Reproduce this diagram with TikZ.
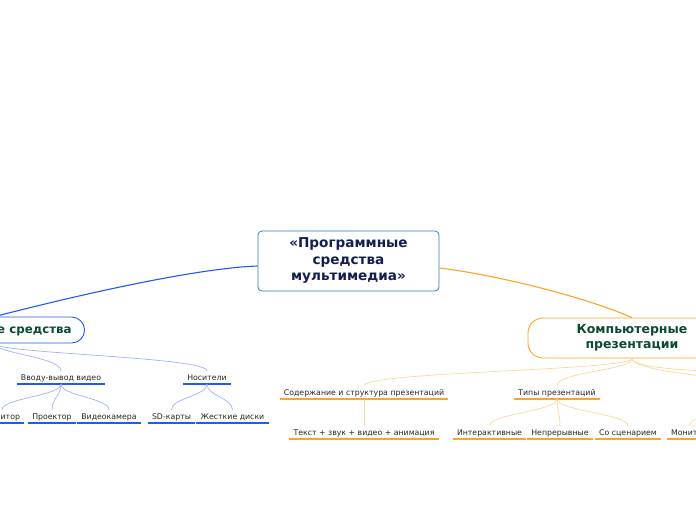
\documentclass[tikz,border=0pt]{standalone}
\usepackage{fontspec}
\setmainfont{DejaVu Sans}
\definecolor{bluemain}{HTML}{1F5BF0}
\definecolor{bluelight}{HTML}{9DB2FF}
\definecolor{orangemain}{HTML}{FFA22A}
\definecolor{orangelight}{HTML}{FFD59A}
\definecolor{rootborder}{HTML}{2D7DC0}
\definecolor{roottext}{HTML}{12204F}
\definecolor{topictext}{HTML}{0C4A30}
\tikzset{
  rootbox/.style={draw=rootborder, line width=0.8pt, rounded corners=4pt, minimum width=181pt,
    minimum height=60pt, align=center, text=roottext, inner sep=1pt, font=\fontsize{13.6}{16.5}\selectfont\bfseries},
  topicbox/.style={rounded corners=13pt, line width=0.9pt, text=topictext, align=center,
    font=\fontsize{12.5}{15}\selectfont\bfseries},
  leaf/.style={font=\fontsize{7.8}{9}\selectfont, inner xsep=4pt, inner ysep=3.5pt, text depth=0pt,
    anchor=south, text=black!85},
  ulb/.style={draw=bluemain, line width=1.4pt},
  ulo/.style={draw=orangemain, line width=1.4pt},
  mainb/.style={draw=bluemain, line width=1.1pt},
  maino/.style={draw=orangemain, line width=1.1pt},
  lconb/.style={draw=bluelight, line width=0.7pt},
  lcono/.style={draw=orangelight, line width=0.7pt},
}
\begin{document}
\begin{tikzpicture}[x=1pt,y=-1pt]
\useasboundingbox (0,0) rectangle (696,520);
\clip (0,0) rectangle (696,520);
% root
\node[rootbox] (root) at (348.5,261) {«Программные\\средства\\мультимедиа»};
% topics
\node[topicbox, draw=bluemain, anchor=east, minimum height=26pt, inner xsep=13pt, font=\fontsize{11.8}{15}\selectfont\bfseries] (hw) at (85,330) {Технические средства};
\node[topicbox, draw=orangemain, minimum width=208pt, minimum height=40pt, rounded corners=15pt] (pres) at (632,338) {Компьютерные\\презентации};
\draw[mainb] ([yshift=-5pt]root.west) .. controls (200,268) and (90,292) .. (hw.north);
\draw[maino] ([yshift=-7pt]root.east) .. controls (490,274) and (580,295) .. (pres.north);
% left leaves
\node[leaf] (vv) at (61,384) {Вводу-вывод видео};
\node[leaf] (nos) at (207,384) {Носители};
\node[leaf] (mon) at (2,423) {Монитор};
\node[leaf] (proj) at (52,423) {Проектор};
\node[leaf] (cam) at (109,423) {Видеокамера};
\node[leaf] (sd) at (171.5,423) {SD-карты};
\node[leaf] (hdd) at (232.5,423) {Жесткие диски};
\foreach \n in {vv,nos,mon,proj,cam,sd,hdd} \draw[ulb] (\n.south west) -- (\n.south east);
\draw[lconb] (hw.south) .. controls +(0,10) and +(0,-14) .. (vv.north);
\draw[lconb] (hw.south) .. controls +(0,10) and +(0,-14) .. (nos.north);
\foreach \c in {mon,proj,cam} \draw[lconb] (vv.south) .. controls +(0,12) and +(0,-12) .. (\c.north);
\foreach \c in {sd,hdd} \draw[lconb] (nos.south) .. controls +(0,12) and +(0,-12) .. (\c.north);
% right leaves
\node[leaf] (sod) at (364,399) {Содержание и структура презентаций};
\node[leaf] (typ) at (557,399) {Типы презентаций};
\node[leaf] (txt) at (364,439) {Текст + звук + видео + анимация};
\node[leaf] (int) at (489.5,439) {Интерактивные};
\node[leaf] (nep) at (560,439) {Непрерывные};
\node[leaf] (scen) at (628,439) {Со сценарием};
\node[leaf, anchor=south west] (mon2) at (667,439) {Монитор};
\foreach \n in {sod,typ,txt,int,nep,scen,mon2} \draw[ulo] (\n.south west) -- (\n.south east);
\coordinate (r1) at (760,372);
\coordinate (r2) at (780,380);
\coordinate (r3) at (740,399);
\draw[lcono] (pres.south) .. controls +(0,12) and +(0,-14) .. (sod.north);
\draw[lcono] (pres.south) .. controls +(0,12) and +(0,-14) .. (typ.north);
\draw[lcono] (pres.south) .. controls +(0,10) and +(-60,0) .. (r1);
\draw[lcono] (pres.south) .. controls +(0,12) and +(-60,0) .. (r2);
\draw[lcono] (sod.south) -- (txt.north);
\foreach \c in {int,nep,scen} \draw[lcono] (typ.south) .. controls +(0,12) and +(0,-12) .. (\c.north);
\draw[lcono] (r3) .. controls +(0,12) and +(0,-12) .. (mon2.north);
\end{tikzpicture}
\end{document}
